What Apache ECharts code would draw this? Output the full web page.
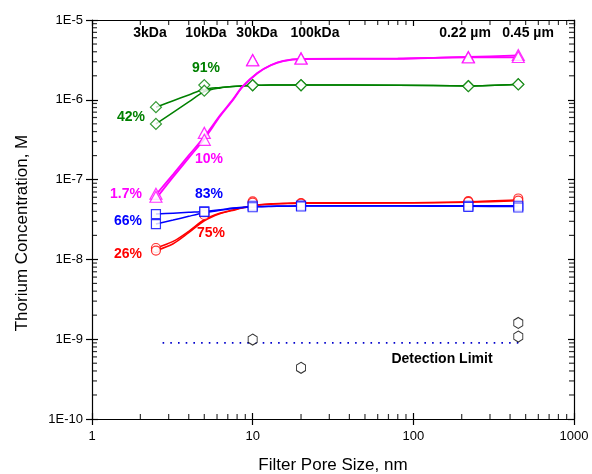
<!DOCTYPE html>
<html>
<head>
<meta charset="utf-8">
<script src="https://cdn.jsdelivr.net/npm/echarts@6/dist/echarts.min.js"></script>
<style>
  html, body { margin: 0; padding: 0; background: #fff; }
  #chart { width: 592px; height: 474px; }
</style>
</head>
<body>
<div id="chart"></div>
<script>
// Filter pore sizes (nm) and their nominal cut-off names
const poreSizes = [2.5, 5, 10, 20, 220, 450];
const cutoffNames = ['3kDa', '10kDa', '30kDa', '100kDa', '0.22 \u00b5m', '0.45 \u00b5m'];

// Measured thorium concentrations (M) in the filtrates, two replicate runs per solution
const greenRunA = [8.08e-7, 1.53e-6, 1.53e-6, 1.53e-6, 1.49e-6, 1.57e-6];
const greenRunB = [4.99e-7, 1.30e-6, 1.52e-6, 1.52e-6, 1.48e-6, 1.56e-6];
const magentaRunA = [6.64e-8, 3.85e-7, 3.16e-6, 3.32e-6, 3.44e-6, 3.65e-6];
const magentaRunB = [6.09e-8, 3.15e-7, 3.12e-6, 3.28e-6, 3.40e-6, 3.44e-6];
const blueRunA = [3.70e-8, 3.99e-8, 4.70e-8, 4.73e-8, 4.70e-8, 4.70e-8];
const blueRunB = [2.77e-8, 3.95e-8, 4.50e-8, 4.60e-8, 4.55e-8, 4.47e-8];
const redRunA = [1.39e-8, 3.80e-8, 5.32e-8, 5.08e-8, 5.37e-8, 5.80e-8];
const redRunB = [1.29e-8, 3.60e-8, 5.15e-8, 5.00e-8, 5.25e-8, 5.45e-8];

// Samples near or below the detection limit
const lowPore = [10, 20, 450, 450];
const lowConc = [9.88e-10, 4.38e-10, 1.60e-9, 1.08e-9];
const detectionLimit = 9e-10;
const detectionRange = [2.75, 450];

// Fitted trend curves, sampled along the pore-size axis
const fitPore = [2.5, 3.2, 4, 5, 6.3, 7.5, 8.6, 10.7, 13, 15.5, 20, 80, 220, 450];
const greenFitA = [8.08e-7, 9.74e-7, 1.151e-6, 1.357e-6, 1.43e-6, 1.472e-6, 1.493e-6, 1.523e-6, 1.536e-6, 1.536e-6, 1.536e-6, 1.523e-6, 1.493e-6, 1.567e-6];
const greenFitB = [4.99e-7, 6.98e-7, 9.41e-7, 1.266e-6, 1.41e-6, 1.463e-6, 1.493e-6, 1.523e-6, 1.536e-6, 1.536e-6, 1.536e-6, 1.523e-6, 1.493e-6, 1.567e-6];
const magentaFitA = [6.46e-8, 1.165e-7, 2.01e-7, 3.43e-7, 6.47e-7, 9.97e-7, 1.45e-6, 2.17e-6, 2.73e-6, 3.07e-6, 3.25e-6, 3.29e-6, 3.44e-6, 3.60e-6];
const magentaFitB = [5.75e-8, 1.08e-7, 1.87e-7, 3.24e-7, 6.30e-7, 9.80e-7, 1.43e-6, 2.15e-6, 2.71e-6, 3.05e-6, 3.23e-6, 3.27e-6, 3.42e-6, 3.40e-6];
const blueFitA = [3.70e-8, 3.80e-8, 3.90e-8, 3.99e-8, 4.19e-8, 4.40e-8, 4.50e-8, 4.61e-8, 4.65e-8, 4.67e-8, 4.70e-8, 4.70e-8, 4.70e-8, 4.70e-8];
const blueFitB = [2.77e-8, 3.11e-8, 3.47e-8, 3.84e-8, 4.13e-8, 4.35e-8, 4.45e-8, 4.57e-8, 4.61e-8, 4.63e-8, 4.66e-8, 4.66e-8, 4.63e-8, 4.60e-8];
const redFitA = [1.39e-8, 1.68e-8, 2.25e-8, 3.14e-8, 3.81e-8, 4.15e-8, 4.44e-8, 4.84e-8, 4.98e-8, 5.05e-8, 5.12e-8, 5.12e-8, 5.28e-8, 5.59e-8];
const redFitB = [1.285e-8, 1.57e-8, 2.16e-8, 3.05e-8, 3.76e-8, 4.10e-8, 4.39e-8, 4.78e-8, 4.92e-8, 4.98e-8, 5.05e-8, 5.08e-8, 5.20e-8, 5.42e-8];

// Percentages passing the two smallest filters
const pctGreen = ['42%', '91%'];
const pctMagenta = ['1.7%', '10%'];
const pctBlue = ['66%', '83%'];
const pctRed = ['26%', '75%'];

const X_MIN = 1, X_MAX = 1000, Y_MIN = 1e-10, Y_MAX = 1e-5;
const FONT = '"Liberation Sans", Arial, Helvetica, sans-serif';
const C_GREEN = '#008000', C_MAGENTA = '#ff00ff', C_BLUE = '#0000ff', C_RED = '#ff0000';

function pairs(xs, ys) { return xs.map((x, i) => [x, ys[i]]); }

// logarithmic minor tick values (2..9 per decade)
function minorValues(lo, hi) {
  const out = [];
  for (let e = lo; e < hi; e++) {
    for (let m = 2; m <= 9; m++) out.push(m * Math.pow(10, e));
  }
  return out;
}
const xMinor = minorValues(0, 3);
const yMinor = minorValues(-10, -5);

const hexagon = 'path://M0,-1L0.866,-0.5L0.866,0.5L0,1L-0.866,0.5L-0.866,-0.5Z';

function fitLine(data, color, width) {
  return {
    type: 'line', data: pairs(fitPore, data), showSymbol: false, symbol: 'none',
    smooth: 0.3, silent: true,
    lineStyle: { color: color, width: width || 1.5 }, z: 2
  };
}
function markers(data, color, symbol, size) {
  return {
    type: 'scatter', data: pairs(poreSizes, data), symbol: symbol, symbolSize: size,
    itemStyle: { color: '#fff', borderColor: color, borderWidth: 1.2 }, z: 3, silent: true
  };
}
// short black bars on the frame, used as logarithmic minor ticks
function minorTickSeries(points, size, offset) {
  return {
    type: 'scatter', data: points, symbol: 'rect', symbolSize: size, symbolOffset: offset,
    itemStyle: { color: '#000' }, silent: true, clip: false, z: 5
  };
}

const series = [
  fitLine(greenFitA, C_GREEN), fitLine(greenFitB, C_GREEN),
  fitLine(magentaFitA, C_MAGENTA, 1.8), fitLine(magentaFitB, C_MAGENTA, 1.8),
  fitLine(redFitA, C_RED), fitLine(redFitB, C_RED),
  fitLine(blueFitA, C_BLUE), fitLine(blueFitB, C_BLUE),
  {
    type: 'line', data: [[detectionRange[0], detectionLimit], [detectionRange[1], detectionLimit]],
    symbol: 'none', silent: true, z: 2,
    lineStyle: { color: '#0000cc', width: 1.6, type: [1.6, 6.1] }
  },
  markers(redRunA, C_RED, 'circle', 9), markers(redRunB, C_RED, 'circle', 9),
  markers(blueRunA, C_BLUE, 'rect', 9), markers(blueRunB, C_BLUE, 'rect', 9),
  markers(greenRunA, C_GREEN, 'diamond', 11), markers(greenRunB, C_GREEN, 'diamond', 11),
  markers(magentaRunA, C_MAGENTA, 'triangle', [12, 11]), markers(magentaRunB, C_MAGENTA, 'triangle', [12, 11]),
  {
    type: 'scatter', data: pairs(lowPore, lowConc), symbol: hexagon, symbolSize: [9, 11],
    itemStyle: { color: '#fff', borderColor: '#000', borderWidth: 1 }, z: 3, silent: true
  },
  minorTickSeries(xMinor.map(v => [v, Y_MIN]), [1.2, 5], [0, -2.5]),
  minorTickSeries(xMinor.map(v => [v, Y_MAX]), [1.2, 5], [0, 2.5]),
  minorTickSeries(yMinor.map(v => [X_MIN, v]), [5, 1.2], [2.5, 0]),
  minorTickSeries(yMinor.map(v => [X_MAX, v]), [5, 1.2], [-2.5, 0])
];

const axisLine = { show: true, lineStyle: { color: '#000', width: 1.2 } };
const majorTick = (inside) => ({ show: true, inside: inside, length: 6, lineStyle: { color: '#000', width: 1.2 } });
const labelStyle = { color: '#000', fontFamily: FONT, fontSize: 13 };

const chart = echarts.init(document.getElementById('chart'), null, { renderer: 'canvas' });

function text(str, x, y, color, size, weight) {
  return {
    type: 'text', x: x, y: y, silent: true, z: 10,
    style: { text: str, fill: color, font: (weight || 'bold') + ' ' + (size || 14) + 'px ' + FONT, align: 'center', verticalAlign: 'middle' }
  };
}

const topLabelX = [150, 206, 257, 315, 465, 528];
const graphics = cutoffNames.map((s, i) => text(s, topLabelX[i], 33, '#000', 14));
graphics.push(
  text(pctGreen[0], 131, 117, C_GREEN), text(pctGreen[1], 206, 68, C_GREEN),
  text(pctMagenta[0], 126, 194, C_MAGENTA), text(pctMagenta[1], 209, 159, C_MAGENTA),
  text(pctBlue[0], 128, 221, C_BLUE), text(pctBlue[1], 209, 194, C_BLUE),
  text(pctRed[0], 128, 254, C_RED), text(pctRed[1], 211, 233, C_RED),
  text('Detection Limit', 442, 359, '#000', 14),
  text('Filter Pore Size, nm', 333, 465, '#000', 17, 'normal'),
  Object.assign(text('Thorium Concentration, M', 22, 233, '#000', 17, 'normal'), { rotation: Math.PI / 2 })
);

chart.setOption({
  animation: false,
  backgroundColor: '#fff',
  grid: { left: 92, top: 20, width: 482, height: 399, containLabel: false },
  xAxis: [
    {
      type: 'log', logBase: 10, min: X_MIN, max: X_MAX, position: 'bottom',
      axisLine: axisLine, axisTick: majorTick(true),
      axisLabel: Object.assign({ margin: 11, formatter: v => String(Math.round(v)) }, labelStyle),
      splitLine: { show: false }
    },
    {
      type: 'log', logBase: 10, min: X_MIN, max: X_MAX, position: 'bottom',
      axisLine: { show: false }, axisTick: majorTick(false),
      axisLabel: { show: false }, splitLine: { show: false }
    },
    {
      type: 'log', logBase: 10, min: X_MIN, max: X_MAX, position: 'top',
      axisLine: axisLine, axisTick: majorTick(true),
      axisLabel: { show: false }, splitLine: { show: false }
    }
  ],
  yAxis: [
    {
      type: 'log', logBase: 10, min: Y_MIN, max: Y_MAX, position: 'left',
      axisLine: axisLine, axisTick: majorTick(true),
      axisLabel: Object.assign({ margin: 9, formatter: v => '1E' + Math.round(Math.log10(v)) }, labelStyle),
      splitLine: { show: false }
    },
    {
      type: 'log', logBase: 10, min: Y_MIN, max: Y_MAX, position: 'left',
      axisLine: { show: false }, axisTick: majorTick(false),
      axisLabel: { show: false }, splitLine: { show: false }
    },
    {
      type: 'log', logBase: 10, min: Y_MIN, max: Y_MAX, position: 'right',
      axisLine: axisLine, axisTick: majorTick(true),
      axisLabel: { show: false }, splitLine: { show: false }
    }
  ],
  series: series,
  graphic: graphics
});
</script>
</body>
</html>
